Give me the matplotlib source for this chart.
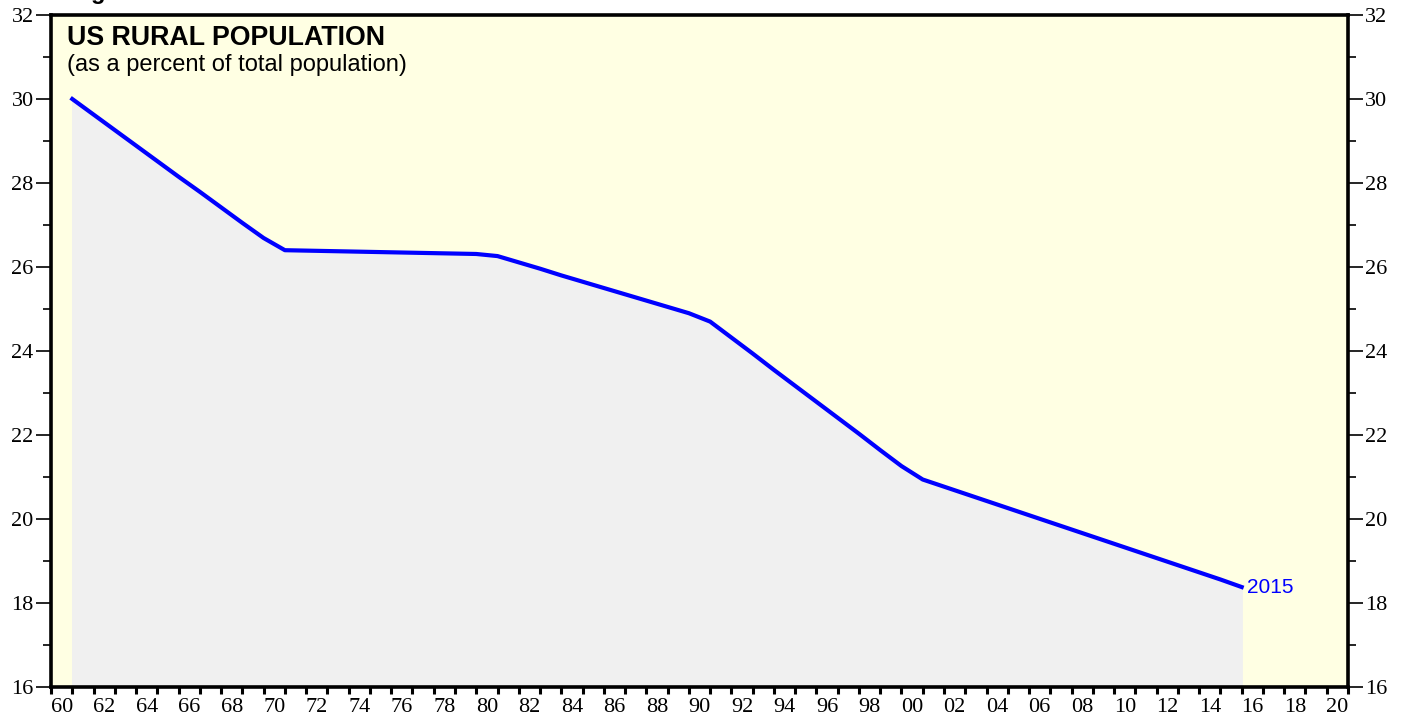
import matplotlib
matplotlib.use("Agg")
import matplotlib.pyplot as plt
from matplotlib.ticker import MultipleLocator, FixedLocator, NullFormatter

years = list(range(1960, 2016))
rural_pct = [30.00, 29.63, 29.26, 28.89, 28.52, 28.15, 27.79, 27.42, 27.05, 26.69,
             26.40, 26.39, 26.38, 26.37, 26.36, 26.35, 26.34, 26.33, 26.32, 26.31,
             26.26, 26.11, 25.96, 25.80, 25.65, 25.50, 25.35, 25.20, 25.05, 24.90,
             24.70, 24.32, 23.94, 23.55, 23.17, 22.79, 22.41, 22.03, 21.64, 21.26,
             20.94, 20.77, 20.60, 20.43, 20.26, 20.09, 19.92, 19.75, 19.58, 19.41,
             19.24, 19.07, 18.90, 18.73, 18.56, 18.38]
title = "US RURAL POPULATION"
subtitle = "(as a percent of total population)"
fig_label = "Figure 1"
end_label = "2015"
xtick_years = list(range(1960, 2021, 2))
xtick_labels = [f"{y % 100:02d}" for y in xtick_years]

# values are end-of-year observations
xpos = [y + 1 for y in years]

fig = plt.figure(figsize=(14.08, 7.21), dpi=100)
ax = fig.add_axes([51 / 1408, 1 - 687 / 721, (1348 - 51) / 1408, (687 - 15) / 721])
ax.set_facecolor("#ffffe3")
ax.set_xlim(1960, 2021)
ax.set_ylim(16, 32)

ax.fill_between(xpos, rural_pct, 16, color="#f0f0f0", zorder=1)
ax.plot(xpos, rural_pct, color="#0000ff", lw=3.0, zorder=3, solid_joinstyle="round")
ax.text(xpos[-1] + 0.25, rural_pct[-1], end_label, color="#0000ff",
        fontsize=15, family="Liberation Sans", va="center", ha="left")

ax.text(0.012, 0.985, title, transform=ax.transAxes, fontsize=19.3,
        fontweight="bold", family="Liberation Sans", va="top", ha="left")
ax.text(0.012, 0.942, subtitle, transform=ax.transAxes, fontsize=17,
        family="Liberation Sans", va="top", ha="left")

fig.text(70 / 1408, 1 + 1.5 / 721, fig_label, fontsize=17, fontweight="bold",
         family="Liberation Sans", va="baseline", ha="left")

for s in ax.spines.values():
    s.set_linewidth(2.6)

# y axis
ax.yaxis.set_major_locator(MultipleLocator(2))
ax.yaxis.set_minor_locator(MultipleLocator(1))
ax.tick_params(axis="y", which="both", left=True, right=True, labelleft=True,
               labelright=True, direction="out")
ax.tick_params(axis="y", which="major", length=10.5, width=1.2, labelsize=16, pad=2)
ax.tick_params(axis="y", which="minor", length=5.5, width=1.2)

# x axis: ticks at each year, labels centered mid-year for even years
ax.xaxis.set_major_locator(FixedLocator(list(range(1960, 2022))))
ax.xaxis.set_major_formatter(NullFormatter())
ax.xaxis.set_minor_locator(FixedLocator([y + 0.5 for y in xtick_years]))
ax.set_xticklabels(xtick_labels, minor=True)
ax.tick_params(axis="x", which="major", length=5, width=2.2, direction="out",
               bottom=True, top=False)
ax.tick_params(axis="x", which="minor", length=0, labelsize=16, pad=8)

for lab in ax.get_xticklabels(minor=True):
    lab.set_family("Liberation Serif")
for t in ax.yaxis.get_major_ticks():
    t.label1.set_family("Liberation Serif")
    t.label2.set_family("Liberation Serif")
    t.label2.set_fontsize(16)

fig.savefig("out.png", dpi=100)
